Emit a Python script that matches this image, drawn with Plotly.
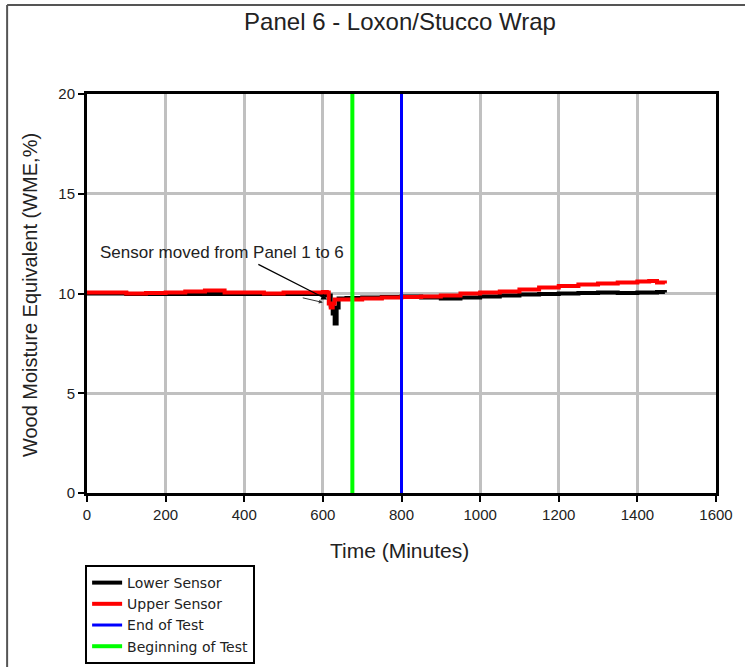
import plotly.graph_objects as go

lower_t = [0, 50, 100, 150, 200, 250, 300, 350, 400, 450, 500, 550, 600, 610, 620, 625, 630, 635, 640,
           660, 700, 750, 800, 850, 900, 950, 1000, 1050, 1100, 1150, 1200, 1250, 1300, 1350, 1400, 1450, 1470]
lower_v = [10.0, 10.0, 9.98, 9.98, 9.97, 9.97, 9.97, 9.98, 9.98, 9.97, 9.97, 9.98, 9.98, 9.9, 9.4, 9.0, 8.5, 9.3, 9.75,
           9.78, 9.8, 9.82, 9.85, 9.8, 9.75, 9.8, 9.85, 9.9, 9.95, 9.98, 10.0, 10.02, 10.05, 10.03, 10.05, 10.07, 10.05]

upper_t = [0, 50, 100, 150, 200, 250, 300, 350, 400, 450, 500, 550, 600, 610, 615, 620, 625, 630, 650,
           700, 750, 800, 850, 900, 950, 1000, 1050, 1100, 1150, 1200, 1250, 1300, 1350, 1400, 1430, 1450, 1470]
upper_v = [10.05, 10.05, 10.0, 10.02, 10.05, 10.1, 10.15, 10.05, 10.05, 10.0, 10.05, 10.05, 10.08, 10.05, 9.5, 9.3, 9.5, 9.7, 9.7,
           9.75, 9.8, 9.82, 9.85, 9.9, 10.0, 10.05, 10.1, 10.2, 10.3, 10.38, 10.45, 10.5, 10.55, 10.6, 10.63, 10.55, 10.5]

end_of_test = 800
beginning_of_test = 675
y_range = [0, 20]
x_range = [0, 1600]

font = "Liberation Sans, Arial, sans-serif"
font_wide = "DejaVu Sans, sans-serif"

fig = go.Figure()
fig.add_trace(go.Scatter(x=lower_t, y=lower_v, mode="lines", name="Lower Sensor",
                         line=dict(color="black", width=4, shape="hv")))
fig.add_trace(go.Scatter(x=upper_t, y=upper_v, mode="lines", name="Upper Sensor",
                         line=dict(color="#ff0000", width=4, shape="hv")))
fig.add_trace(go.Scatter(x=[end_of_test, end_of_test], y=y_range, mode="lines", name="End of Test",
                         line=dict(color="#0000ff", width=3)))
fig.add_trace(go.Scatter(x=[beginning_of_test, beginning_of_test], y=y_range, mode="lines",
                         name="Beginning of Test", line=dict(color="#00ff00", width=4)))

axis_common = dict(showline=True, linecolor="black", linewidth=3, mirror=True,
                   showgrid=True, gridcolor="#c0c0c0", gridwidth=3, zeroline=False,
                   ticks="outside", ticklen=6, tickwidth=2, tickcolor="black",
                   tickfont=dict(family=font, size=15, color="#222"))

fig.update_xaxes(range=x_range, dtick=200, **axis_common)
fig.update_yaxes(range=y_range, dtick=5, **axis_common)

fig.add_annotation(x=611, y=9.7, ax=432, ay=11.5, axref="x", ayref="y", xref="x", yref="y",
                   text="", showarrow=True, arrowhead=2, arrowsize=1, arrowwidth=1.2, arrowcolor="black")
fig.add_annotation(x=600, y=9.55, ax=545, ay=9.8, axref="x", ayref="y", xref="x", yref="y",
                   text="", showarrow=True, arrowhead=2, arrowsize=0.8, arrowwidth=1, arrowcolor="#333")
fig.add_annotation(x=343, y=12.08, xref="x", yref="y", text="Sensor moved from Panel 1 to 6",
                   showarrow=False, font=dict(family=font, size=17, color="#222"))

fig.add_annotation(x=0.4976, y=-0.143, xref="paper", yref="paper", text="Time (Minutes)",
                   showarrow=False, font=dict(family=font, size=21, color="#222"), yanchor="middle")
fig.add_annotation(x=-0.0906, y=0.496, xref="paper", yref="paper", text="Wood Moisture Equivalent (WME,%)",
                   showarrow=False, textangle=-90, font=dict(family=font, size=20, color="#222"),
                   xanchor="center", yanchor="middle")

# outer frame (left and top)
fig.add_shape(type="line", xref="paper", yref="paper", x0=-0.127, x1=-0.127, y0=1.223, y1=-0.5,
              line=dict(color="#555", width=2))
fig.add_shape(type="line", xref="paper", yref="paper", x0=-0.127, x1=1.1, y0=1.223, y1=1.223,
              line=dict(color="#555", width=2))

fig.update_layout(
    width=745, height=667,
    margin=dict(l=87, r=29, t=94, b=174, autoexpand=False),
    paper_bgcolor="white", plot_bgcolor="white",
    title=dict(text="Panel 6 - Loxon/Stucco Wrap", x=0.4976, xref="paper", y=1 - 22 / 667,
               yanchor="middle", font=dict(family=font, size=24, color="#222")),
    showlegend=True,
    legend=dict(x=-0.003, y=-0.1805, xanchor="left", yanchor="top", bgcolor="white",
                bordercolor="black", borderwidth=2, font=dict(family=font_wide, size=14, color="#222"),
                tracegroupgap=0),
)

fig.write_html("out.html", config={"displayModeBar": False},
               post_script="document.body.style.margin='0px';")
